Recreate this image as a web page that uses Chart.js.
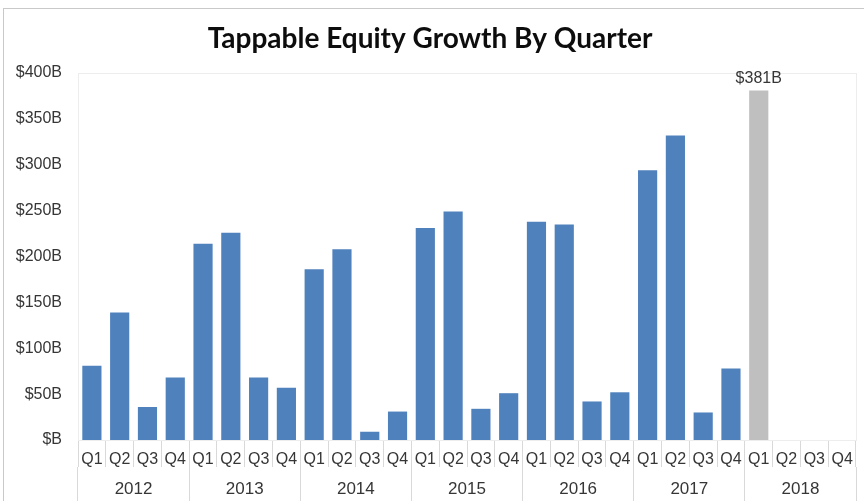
<!DOCTYPE html>
<html>
<head>
<meta charset="utf-8">
<script src="https://cdn.jsdelivr.net/npm/chart.js@4/dist/chart.umd.min.js"></script>
<style>
    html, body { margin: 0; padding: 0; background: #fff; }
    #wrap {
        position: absolute; left: 3px; top: 8px;
        width: 860px; height: 492px;
        border-left: 1px solid #c9c9c9; border-top: 1px solid #c9c9c9;
    }
    canvas { display: block; }
</style>
</head>
<body>
<div id="wrap"><canvas id="equityChart" width="860" height="492"></canvas></div>
<script>
// --- data ---
const quarters = ['Q1', 'Q2', 'Q3', 'Q4'];
const years = ['2012', '2013', '2014', '2015', '2016', '2017', '2018'];
const quarterLabels = years.flatMap(() => quarters);
const equityGrowth = [
    81, 139, 36, 68,      // 2012
    214, 226, 68, 57,     // 2013
    186, 208, 9, 31,      // 2014
    231, 249, 34, 51,     // 2015
    238, 235, 42, 52,     // 2016
    294, 332, 30, 78,     // 2017
    381, null, null, null // 2018
];
const highlightIndex = 24; // 2018 Q1
const yTicks = [0, 50, 100, 150, 200, 250, 300, 350, 400];

const BLUE = '#4f81bd';
const GRAY = '#bfbfbf';
const TEXT = '#363636';
const LINE = '#d9d9d9';

const barColors = equityGrowth.map((v, i) => i === highlightIndex ? GRAY : BLUE);
const fmt = v => '$' + (v === 0 ? '' : v) + 'B';

// faint frame around the plot area
const plotFrame = {
    id: 'plotFrame',
    beforeDatasetsDraw(chart) {
        const a = chart.chartArea;
        const c = chart.ctx;
        c.save();
        c.strokeStyle = '#ededed';
        c.lineWidth = 1;
        c.strokeRect(Math.round(a.left) + 0.5, Math.round(a.top) + 0.5,
            Math.round(a.right - a.left), Math.round(a.bottom - a.top));
        c.restore();
    }
};

// value label over the highlighted bar
const valueLabel = {
    id: 'valueLabel',
    afterDatasetsDraw(chart) {
        const bar = chart.getDatasetMeta(0).data[highlightIndex];
        if (!bar) return;
        const c = chart.ctx;
        c.save();
        c.font = '16px "Liberation Sans", Arial, sans-serif';
        c.fillStyle = TEXT;
        c.textAlign = 'center';
        c.textBaseline = 'bottom';
        c.fillText(fmt(equityGrowth[highlightIndex]), bar.x, bar.y - 4);
        c.restore();
    }
};

new Chart(document.getElementById('equityChart'), {
    type: 'bar',
    data: {
        labels: quarterLabels,
        datasets: [{
            data: equityGrowth,
            backgroundColor: barColors,
            borderWidth: 0,
            categoryPercentage: 1,
            barPercentage: 0.69
        }]
    },
    options: {
        responsive: false,
        animation: false,
        layout: { padding: { left: 0, right: 8, top: 0, bottom: 0 } },
        plugins: {
            legend: { display: false },
            tooltip: { enabled: false },
            title: {
                display: true,
                text: 'Tappable Equity Growth By Quarter',
                color: '#0d0d0d',
                font: { family: 'Lato, sans-serif', size: 28, weight: 'bold' },
                padding: { top: 13, bottom: 17.4 }
            }
        },
        scales: {
            x: {
                position: 'bottom',
                offset: true,
                grid: { offset: true, drawOnChartArea: false, color: LINE, tickLength: 27 },
                border: { display: true, color: LINE },
                ticks: {
                    color: TEXT, padding: -17, maxRotation: 0, autoSkip: false,
                    font: { family: '"Liberation Sans", Arial, sans-serif', size: 16 }
                },
                afterFit(scale) { scale.height = 27; }
            },
            x2: {
                type: 'category',
                position: 'bottom',
                labels: years,
                offset: true,
                grid: { offset: true, drawOnChartArea: false, color: LINE, tickLength: 34 },
                border: { display: false },
                ticks: {
                    color: TEXT, padding: -22, maxRotation: 0, autoSkip: false,
                    font: { family: '"Liberation Sans", Arial, sans-serif', size: 17 }
                },
                afterFit(scale) { scale.height = 34; }
            },
            y: {
                min: 0,
                max: 400,
                afterBuildTicks(scale) { scale.ticks = yTicks.map(v => ({ value: v })); },
                grid: { display: false, drawTicks: false },
                border: { display: false },
                ticks: {
                    color: TEXT, padding: 16,
                    font: { family: '"Liberation Sans", Arial, sans-serif', size: 16 },
                    callback: v => fmt(v)
                },
                afterFit(scale) { scale.width = 74; }
            }
        }
    },
    plugins: [plotFrame, valueLabel]
});
</script>
</body>
</html>
